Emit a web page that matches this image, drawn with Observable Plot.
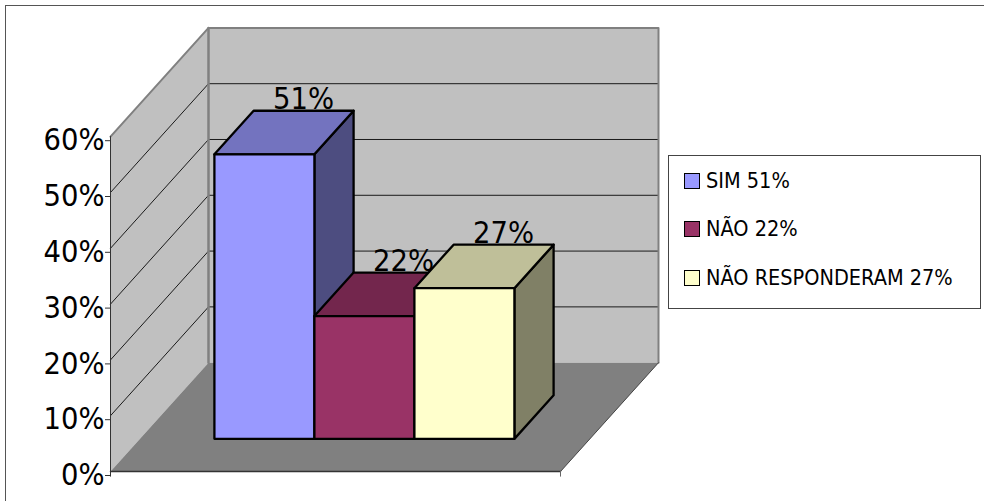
<!DOCTYPE html>
<html lang="pt">
<head>
<meta charset="utf-8">
<title>SIM, NÃO, NÃO RESPONDERAM</title>
<script src="https://cdn.jsdelivr.net/npm/d3@7"></script>
<script src="https://cdn.jsdelivr.net/npm/@observablehq/plot@0.6"></script>
<style>
  html, body { margin: 0; padding: 0; background: #fff; overflow: hidden; }
  #chart { position: relative; width: 984px; height: 501px; overflow: hidden; }
  #chart svg { position: absolute; left: 0; top: 0; }
  #outer { position: absolute; left: 5px; top: 5px; width: 1000px; height: 520px; border: 1px solid #555; }
  #legend { position: absolute; left: 668px; top: 155px; width: 311px; height: 152px; box-sizing: content-box;
    background: #fff; border: 1px solid #444; font: 21.5px "DejaVu Sans Condensed", "DejaVu Sans", sans-serif; color: #000; }
  .row { position: absolute; left: 15px; display: flex; align-items: center; height: 18px; white-space: nowrap; }
  .swatch { width: 14px; height: 14px; border: 1.5px solid #000; margin-right: 6px; flex: none; }
  .row span.label { position: relative; top: -1px; }
</style>
</head>
<body>
<div id="chart"><div id="outer"></div></div>
<script>
// Respostas e percentuais
const categories = ["SIM", "NÃO", "NÃO RESPONDERAM"];
const values = [51, 22, 27];
const faceColors = ["#9999FF", "#993366", "#FFFFCC"];
const topColors = ["#7373BF", "#73264D", "#BFBF99"];
const sideColors = ["#4D4D80", "#4D1A33", "#808066"];
const yTicks = [0, 10, 20, 30, 40, 50, 60];

// Oblique projection: u runs along the floor, v is the percentage, d is depth (0 front, 1 back)
const floorLength = 4.5, barStart = 0.745, barWidth = 1;
const depthFront = 0.3, depthBack = 0.7;
const shearX = 0.98, shearY = 19.5;
const px = p => p.u + p.d * shearX;
const py = p => p.v + p.d * shearY;
const P = (u, v, d) => ({u, v, d});
const closed = pts => [...pts, pts[0]];
const maxV = yTicks[yTicks.length - 1];

// Walls and floor
const sideWall = closed([P(0,0,0), P(0,maxV,0), P(0,maxV,1), P(0,0,1)]);
const backWall = closed([P(0,0,1), P(floorLength,0,1), P(floorLength,maxV,1), P(0,maxV,1)]);
const floor = closed([P(0,0,0), P(floorLength,0,0), P(floorLength,0,1), P(0,0,1)]);
const grid = yTicks.slice(1, -1);

// One box per answer: back faces are hidden by the front, top and side faces
function boxFaces(i) {
  const u0 = barStart + i * barWidth, u1 = u0 + barWidth, v = values[i];
  return [
    {fill: sideColors[i], pts: [P(u1,0,depthFront), P(u1,0,depthBack), P(u1,v,depthBack), P(u1,v,depthFront)]},
    {fill: topColors[i], pts: [P(u0,v,depthFront), P(u1,v,depthFront), P(u1,v,depthBack), P(u0,v,depthBack)]},
    {fill: faceColors[i], pts: [P(u0,0,depthFront), P(u1,0,depthFront), P(u1,v,depthFront), P(u0,v,depthFront)]}
  ];
}
const fontFamily = '"DejaVu Sans Condensed", "DejaVu Sans", sans-serif';
const poly = (pts, o) => Plot.line(pts, {x: px, y: py, ...o});

// The box in front of a label must cover it, so labels and boxes keep this order
const boxes = categories.flatMap((c, i) => [
  ...boxFaces(i).map(f => poly(closed(f.pts), {fill: f.fill, stroke: "#000", strokeWidth: 2.3})),
  Plot.text([P(barStart + (i + 0.5) * barWidth, values[i], depthBack)], {
    x: px, y: py, text: () => values[i] + "%", fontSize: 30.5, fill: "#000",
    textAnchor: "middle", lineAnchor: "bottom", dy: -2
  })
]);

const plot = Plot.plot({
  width: 984, height: 501,
  style: {background: "transparent", fontFamily, overflow: "visible"},
  x: {domain: [0, floorLength + shearX], range: [110, 658], axis: null},
  y: {domain: [0, maxV + shearY], range: [471, 471 - 5.58 * (maxV + shearY)], axis: null},
  marks: [
    poly(sideWall, {fill: "#C0C0C0"}),
    poly(backWall, {fill: "#C0C0C0"}),
    poly(floor, {fill: "#808080"}),
    ...grid.map(v => poly([P(0,v,0), P(0,v,1), P(floorLength,v,1)], {stroke: "#1a1a1a", strokeWidth: 1})),
    poly([P(0,0,1), P(0,maxV,1)], {stroke: "#808080", strokeWidth: 2.5}),
    poly([P(0,maxV,0), P(0,maxV,1), P(floorLength,maxV,1), P(floorLength,0,1)], {stroke: "#808080", strokeWidth: 2}),
    poly([P(0,0,0), P(floorLength,0,0)], {stroke: "#333", strokeWidth: 1.5}),
    poly([P(floorLength,0,0), P(floorLength,0,1)], {stroke: "#444", strokeWidth: 1}),
    Plot.ruleX([0], {y1: -1, y2: maxV, stroke: "#333", strokeWidth: 1}),
    Plot.ruleX([floorLength], {y1: -1, y2: 0, stroke: "#666", strokeWidth: 1}),
    Plot.axisY({
      ticks: yTicks, tickFormat: d => d + "%", tickSize: 5, tickPadding: 1, label: null,
      fontSize: 30.5, stroke: "#333", fill: "#000", anchor: "left", dy: 4, marginLeft: 110
    }),
    ...boxes
  ]
});
const chart = document.getElementById("chart");
chart.appendChild(plot);

// Legenda
const legend = document.createElement("div");
legend.id = "legend";
const rowTops = [16, 64, 113];
categories.forEach((c, i) => {
  const row = document.createElement("div");
  row.className = "row";
  row.style.top = rowTops[i] + "px";
  const sw = document.createElement("span");
  sw.className = "swatch";
  sw.style.background = faceColors[i];
  row.appendChild(sw);
  const label = document.createElement("span");
  label.className = "label";
  label.textContent = `${c} ${values[i]}%`;
  row.appendChild(label);
  legend.appendChild(row);
});
chart.appendChild(legend);
</script>
</body>
</html>
